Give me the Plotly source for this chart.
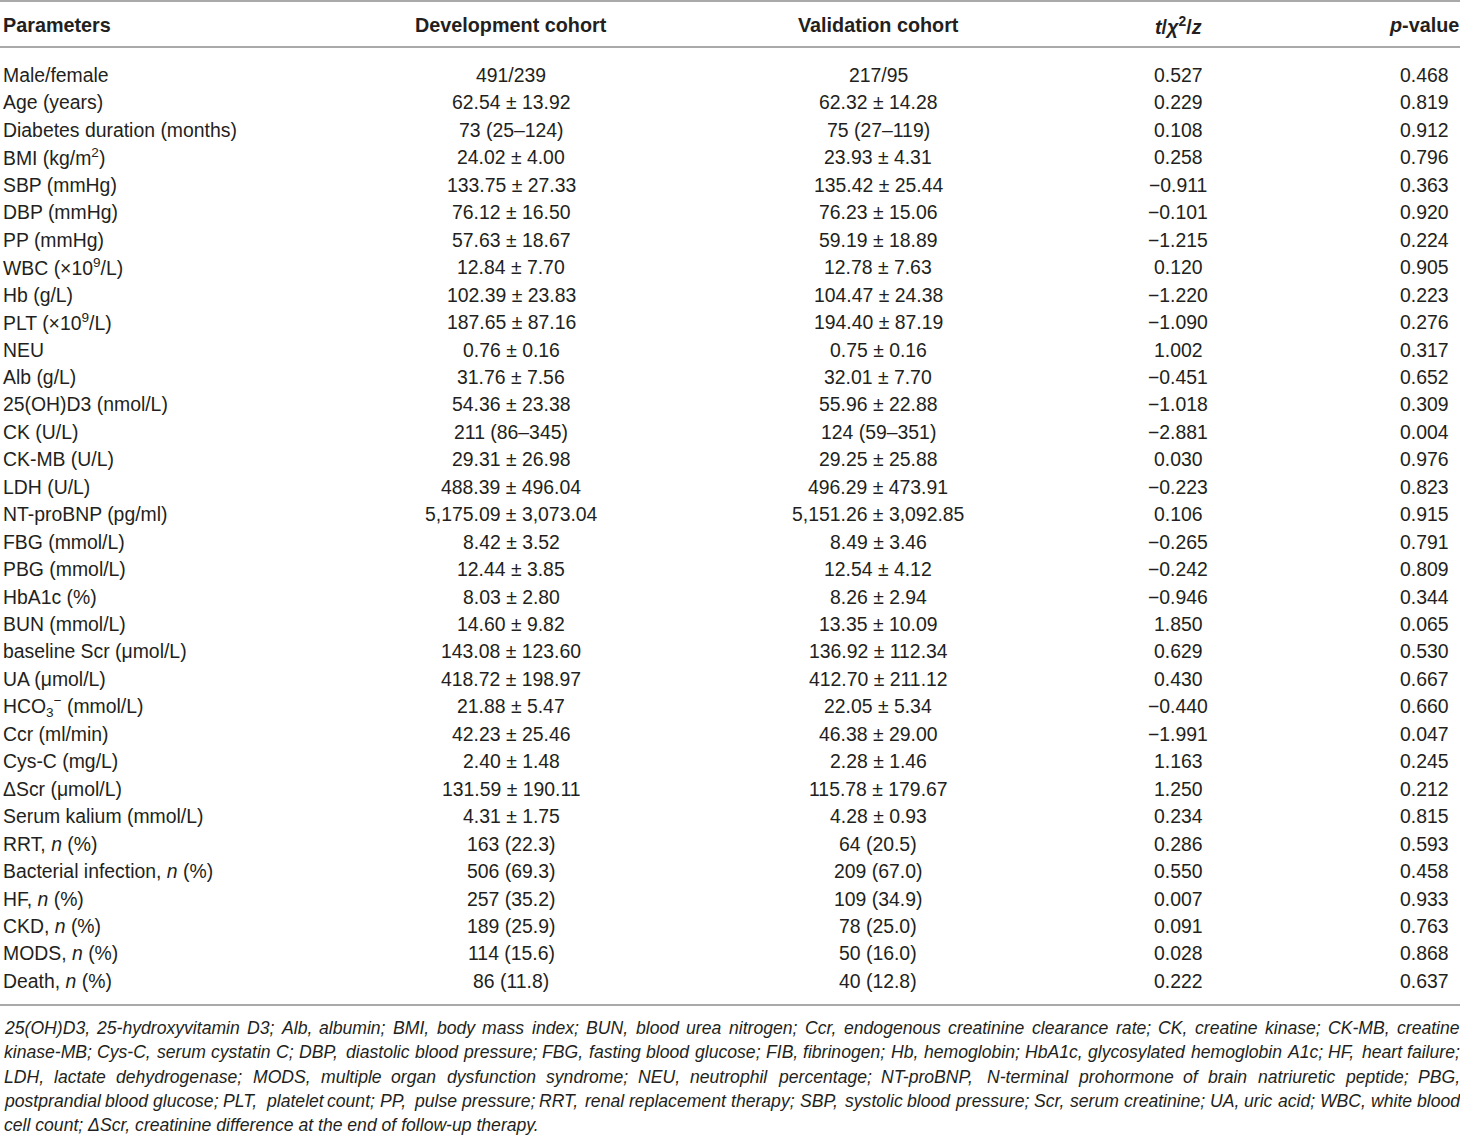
import plotly.graph_objects as go

# ---------------- data ----------------
headers = ["Parameters", "Development cohort", "Validation cohort",
           "<i>t</i>/<i>χ</i><sup>2</sup>/<i>z</i>", "<i>p</i>-value"]

parameters = [
    "Male/female", "Age (years)", "Diabetes duration (months)", "BMI (kg/m<sup>2</sup>)",
    "SBP (mmHg)", "DBP (mmHg)", "PP (mmHg)", "WBC (×10<sup>9</sup>/L)", "Hb (g/L)",
    "PLT (×10<sup>9</sup>/L)", "NEU", "Alb (g/L)", "25(OH)D3 (nmol/L)", "CK (U/L)",
    "CK-MB (U/L)", "LDH (U/L)", "NT-proBNP (pg/ml)", "FBG (mmol/L)", "PBG (mmol/L)",
    "HbA1c (%)", "BUN (mmol/L)", "baseline Scr (μmol/L)", "UA (μmol/L)",
    "HCO<sub>3</sub><sup>−</sup> (mmol/L)", "Ccr (ml/min)", "Cys-C (mg/L)",
    "ΔScr (μmol/L)", "Serum kalium (mmol/L)", "RRT, <i>n</i> (%)",
    "Bacterial infection, <i>n</i> (%)", "HF, <i>n</i> (%)", "CKD, <i>n</i> (%)",
    "MODS, <i>n</i> (%)", "Death, <i>n</i> (%)",
]

development = [
    "491/239", "62.54 ± 13.92", "73 (25–124)", "24.02 ± 4.00", "133.75 ± 27.33",
    "76.12 ± 16.50", "57.63 ± 18.67", "12.84 ± 7.70", "102.39 ± 23.83", "187.65 ± 87.16",
    "0.76 ± 0.16", "31.76 ± 7.56", "54.36 ± 23.38", "211 (86–345)", "29.31 ± 26.98",
    "488.39 ± 496.04", "5,175.09 ± 3,073.04", "8.42 ± 3.52", "12.44 ± 3.85", "8.03 ± 2.80",
    "14.60 ± 9.82", "143.08 ± 123.60", "418.72 ± 198.97", "21.88 ± 5.47", "42.23 ± 25.46",
    "2.40 ± 1.48", "131.59 ± 190.11", "4.31 ± 1.75", "163 (22.3)", "506 (69.3)",
    "257 (35.2)", "189 (25.9)", "114 (15.6)", "86 (11.8)",
]

validation = [
    "217/95", "62.32 ± 14.28", "75 (27–119)", "23.93 ± 4.31", "135.42 ± 25.44",
    "76.23 ± 15.06", "59.19 ± 18.89", "12.78 ± 7.63", "104.47 ± 24.38", "194.40 ± 87.19",
    "0.75 ± 0.16", "32.01 ± 7.70", "55.96 ± 22.88", "124 (59–351)", "29.25 ± 25.88",
    "496.29 ± 473.91", "5,151.26 ± 3,092.85", "8.49 ± 3.46", "12.54 ± 4.12", "8.26 ± 2.94",
    "13.35 ± 10.09", "136.92 ± 112.34", "412.70 ± 211.12", "22.05 ± 5.34", "46.38 ± 29.00",
    "2.28 ± 1.46", "115.78 ± 179.67", "4.28 ± 0.93", "64 (20.5)", "209 (67.0)",
    "109 (34.9)", "78 (25.0)", "50 (16.0)", "40 (12.8)",
]

statistic = [
    "0.527", "0.229", "0.108", "0.258", "−0.911", "−0.101", "−1.215", "0.120", "−1.220",
    "−1.090", "1.002", "−0.451", "−1.018", "−2.881", "0.030", "−0.223", "0.106", "−0.265",
    "−0.242", "−0.946", "1.850", "0.629", "0.430", "−0.440", "−1.991", "1.163", "1.250",
    "0.234", "0.286", "0.550", "0.007", "0.091", "0.028", "0.222",
]

p_values = [
    "0.468", "0.819", "0.912", "0.796", "0.363", "0.920", "0.224", "0.905", "0.223",
    "0.276", "0.317", "0.652", "0.309", "0.004", "0.976", "0.823", "0.915", "0.791",
    "0.809", "0.344", "0.065", "0.530", "0.667", "0.660", "0.047", "0.245", "0.212",
    "0.815", "0.593", "0.458", "0.933", "0.763", "0.868", "0.637",
]

footnote_lines = [
    "25(OH)D3, 25-hydroxyvitamin D3; Alb, albumin; BMI, body mass index; BUN, blood urea nitrogen; Ccr, endogenous creatinine clearance rate; CK, creatine kinase; CK-MB, creatine",
    "kinase-MB; Cys-C, serum cystatin C; DBP, diastolic blood pressure; FBG, fasting blood glucose; FIB, fibrinogen; Hb, hemoglobin; HbA1c, glycosylated hemoglobin A1c; HF, heart failure;",
    "LDH, lactate dehydrogenase; MODS, multiple organ dysfunction syndrome; NEU, neutrophil percentage; NT-proBNP, N-terminal prohormone of brain natriuretic peptide; PBG,",
    "postprandial blood glucose; PLT, platelet count; PP, pulse pressure; RRT, renal replacement therapy; SBP, systolic blood pressure; Scr, serum creatinine; UA, uric acid; WBC, white blood",
    "cell count; ΔScr, creatinine difference at the end of follow-up therapy.",
]

# ---------------- layout / style ----------------
W, H = 1460, 1140
FONT = "Liberation Sans"
TXT = "#231f20"
RULE = "#8c8c8c"
BODY_SIZE = 19.4
HEAD_SIZE = 19.8
NOTE_SIZE = 17.6

# column anchor positions (px) and alignment
col_x = [1, 511, 878, 1178, 1424]
col_anchor = ["left", "center", "center", "center", "center"]

header_y = 25
row_y0 = 75
row_step = 27.45
rule_top, rule_head, rule_bottom = 1, 47, 1005
note_y0, note_step = 1028, 24.3
note_left, note_right = 2, 1458

# Arial / Liberation Sans advance widths (per 1000 em)
AW = {' ': 278, '(': 333, ')': 333, ',': 278, '-': 333, '.': 278, '/': 278, ';': 278, ':': 278,
      'A': 667, 'B': 667, 'C': 722, 'D': 722, 'E': 667, 'F': 611, 'G': 778, 'H': 722, 'I': 278,
      'J': 500, 'K': 667, 'L': 556, 'M': 833, 'N': 722, 'O': 778, 'P': 667, 'Q': 778, 'R': 722,
      'S': 667, 'T': 611, 'U': 722, 'V': 667, 'W': 944, 'X': 667, 'Y': 667, 'Z': 611,
      'a': 556, 'b': 556, 'c': 500, 'd': 556, 'e': 556, 'f': 278, 'g': 556, 'h': 556, 'i': 222,
      'j': 222, 'k': 500, 'l': 222, 'm': 833, 'n': 556, 'o': 556, 'p': 556, 'q': 556, 'r': 333,
      's': 500, 't': 278, 'u': 556, 'v': 500, 'w': 722, 'x': 500, 'y': 500, 'z': 500, 'Δ': 612}


def text_width(s, size):
    return sum(AW.get(ch, 556) for ch in s) * size / 1000.0


fig = go.Figure()
annotations = []

# header
for j, h in enumerate(headers):
    annotations.append(dict(x=col_x[j], y=header_y, text=f"<b>{h}</b>",
                            xanchor=col_anchor[j], yanchor="middle", showarrow=False,
                            font=dict(family=FONT, size=HEAD_SIZE, color=TXT)))

# body
columns = [parameters, development, validation, statistic, p_values]
for i in range(len(parameters)):
    y = row_y0 + i * row_step
    for j, col in enumerate(columns):
        annotations.append(dict(x=col_x[j], y=y, text=col[i], xanchor=col_anchor[j],
                                yanchor="middle", showarrow=False,
                                font=dict(family=FONT, size=BODY_SIZE, color=TXT)))

# footnote, justified (all lines but the last)
for k, line in enumerate(footnote_lines):
    y = note_y0 + k * note_step
    font = dict(family=FONT, size=NOTE_SIZE, color=TXT)
    if k == len(footnote_lines) - 1:
        annotations.append(dict(x=note_left, y=y, text=f"<i>{line}</i>", xanchor="left",
                                yanchor="middle", showarrow=False, font=font))
        continue
    words = line.split(" ")
    widths = [text_width(w, NOTE_SIZE) for w in words]
    gap = max((note_right - note_left - sum(widths)) / (len(words) - 1), 2.5)
    x = note_left
    for w, wd in zip(words, widths):
        annotations.append(dict(x=x, y=y, text=f"<i>{w}</i>", xanchor="left",
                                yanchor="middle", showarrow=False, font=font))
        x += wd + gap

shapes = []
for yy in (rule_top, rule_head, rule_bottom):
    shapes.append(dict(type="line", x0=0, x1=W, y0=yy, y1=yy, xref="x", yref="y",
                       line=dict(color=RULE, width=1.5)))

fig.update_layout(
    width=W, height=H, margin=dict(l=0, r=0, t=0, b=0),
    paper_bgcolor="white", plot_bgcolor="white",
    xaxis=dict(range=[0, W], visible=False, fixedrange=True),
    yaxis=dict(range=[H, 0], visible=False, fixedrange=True),
    annotations=annotations, shapes=shapes, showlegend=False,
)

fig.write_html(
    "out.html",
    config={"displayModeBar": False},
    post_script="document.body.style.margin='0';document.body.style.padding='0';"
                "document.body.style.overflow='hidden';",
)
